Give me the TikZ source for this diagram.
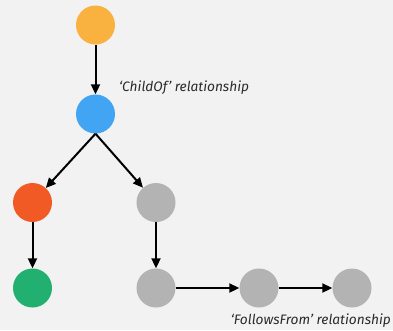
\documentclass[tikz,border=0pt]{standalone}
\usepackage{fontspec}
\setmainfont{Fira Sans}
\usetikzlibrary{arrows.meta}
\definecolor{bg}{HTML}{F2F2F2}
\definecolor{corange}{HTML}{F9B13F}
\definecolor{cblue}{HTML}{42A5F3}
\definecolor{cred}{HTML}{F15A24}
\definecolor{cgreen}{HTML}{21B06F}
\definecolor{cgray}{HTML}{B3B3B3}
\definecolor{ctext}{HTML}{2A2A2A}
\tikzset{
  span/.style={circle, minimum size=39pt, inner sep=0pt},
  rel/.style={line width=2pt, -{Triangle[length=10pt,width=9pt]}},
  note/.style={font=\itshape\fontsize{13.7}{16}\selectfont, text=ctext, inner sep=0pt}
}
\begin{document}
\begin{tikzpicture}[x=1pt,y=-1pt]
  \fill[bg] (0,0) rectangle (393,330);
  \useasboundingbox (0,0) rectangle (393,330);
  \node[span, fill=corange] (root) at (95.5,25) {};
  \node[span, fill=cblue]   (mid)  at (95.5,114) {};
  \node[span, fill=cred]    (left) at (32.5,202.5) {};
  \node[span, fill=cgray]   (g1)   at (156,202.5) {};
  \node[span, fill=cgreen]  (leaf) at (32.5,288) {};
  \node[span, fill=cgray]   (g2)   at (156,288) {};
  \node[span, fill=cgray]   (g3)   at (259,288) {};
  \node[span, fill=cgray]   (g4)   at (352,288) {};
  \draw[rel] (root) -- (mid);
  \draw[rel] (mid.south) -- (left);
  \draw[rel] (mid.south) -- (g1);
  \draw[rel] (left) -- (leaf);
  \draw[rel] (g1) -- (g2);
  \draw[rel] (g2) -- (g3);
  \draw[rel] (g3) -- (g4);
  \node[note, anchor=west] (lbl1) at (119,88) {‘ChildOf’ relationship};
  \node[note, anchor=east] (lbl2) at (391,321) {‘FollowsFrom’ relationship};
\end{tikzpicture}
\end{document}
